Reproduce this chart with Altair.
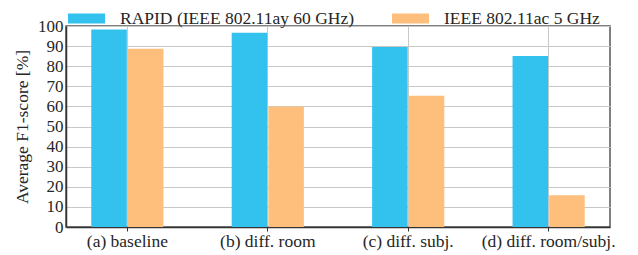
import altair as alt
import pandas as pd

categories = ["(a) baseline", "(b) diff. room", "(c) diff. subj.", "(d) diff. room/subj."]
series = ["RAPID (IEEE 802.11ay 60 GHz)", "IEEE 802.11ac 5 GHz"]
rapid = [98.2, 96.6, 89.6, 85.1]
wifi = [88.7, 60.0, 65.3, 15.8]
y_ticks = list(range(0, 101, 10))
colors = ["#33C2EE", "#FEBF7D"]

rows = []
for c, a, b in zip(categories, rapid, wifi):
    rows.append({"cat": c, "series": series[0], "value": a})
    rows.append({"cat": c, "series": series[1], "value": b})
df = pd.DataFrame(rows)

FONT = "Liberation Serif"
TXT = "#262626"

chart = alt.Chart(df).mark_bar().encode(
    x=alt.X("cat:N", sort=categories,
            scale=alt.Scale(paddingInner=0.486, paddingOuter=0.18),
            axis=alt.Axis(title=None, labelAngle=0, labelFont=FONT, labelFontSize=17.5,
                          labelColor=TXT, tickSize=4, tickColor="#333",
                          domainColor="#333", domainWidth=1.5, labelPadding=1,
                          grid=True, gridColor="#c8c8c8", gridWidth=1)),
    xOffset=alt.XOffset("series:N", sort=series, scale=alt.Scale(paddingInner=0.03)),
    y=alt.Y("value:Q", scale=alt.Scale(domain=[0, 100], nice=False),
            axis=alt.Axis(title="Average F1-score [%]", values=y_ticks, ticks=False,
                          labelFont=FONT, labelFontSize=17, labelColor=TXT,
                          labelPadding=3, titleFont=FONT, titleFontSize=17.5,
                          titleFontWeight="normal", titleColor=TXT, titlePadding=6,
                          domainColor="#333", domainWidth=1.5,
                          gridColor="#c8c8c8", gridWidth=1)),
    color=alt.Color("series:N", sort=series,
                    scale=alt.Scale(domain=series, range=colors),
                    legend=alt.Legend(title=None, orient="none", direction="horizontal",
                                      legendX=2, legendY=-26,
                                      symbolType="M-1,-0.27H1V0.27H-1Z",
                                      symbolSize=1369, symbolOpacity=1,
                                      symbolStrokeWidth=0,
                                      labelFont=FONT, labelFontSize=17.5, labelColor=TXT,
                                      labelOffset=15, columnPadding=37,
                                      labelLimit=400)),
).properties(
    width=544, height=201,
    autosize=alt.AutoSizeParams(type="none"),
    padding={"left": 58, "top": 18, "right": 20, "bottom": 28},
).configure_view(
    stroke="#555", strokeWidth=1.5
)

chart.save("out.html", embed_options={"renderer": "svg", "actions": False})
